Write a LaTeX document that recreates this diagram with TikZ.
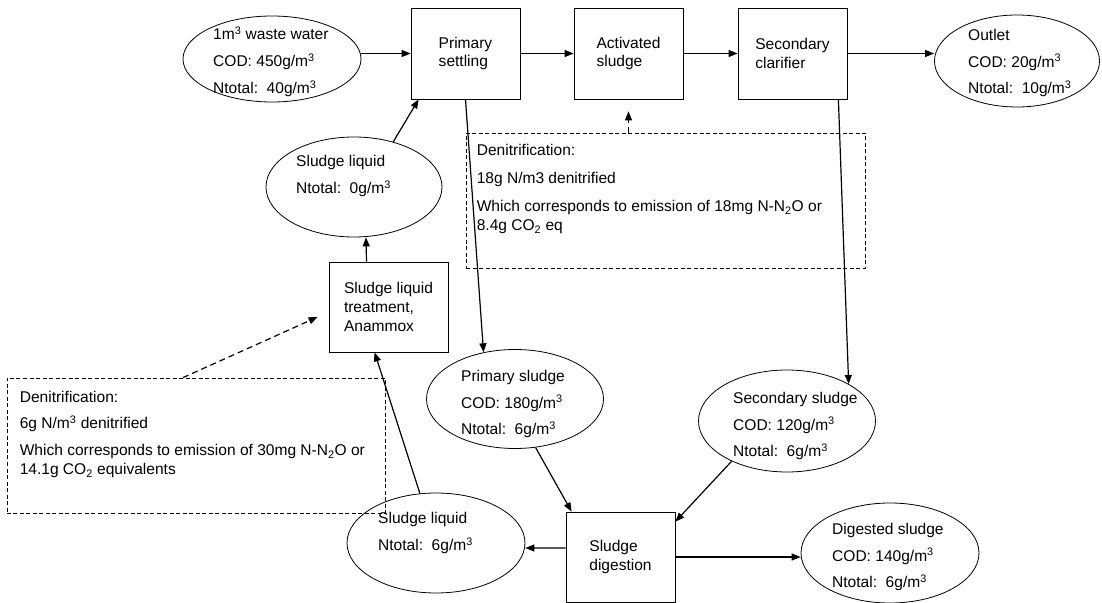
\documentclass[tikz,border=0pt]{standalone}
\usepackage{fontspec}
\setmainfont{Liberation Sans}
\usetikzlibrary{arrows.meta,calc,shapes.geometric}
\newcommand{\cube}{\textsuperscript{3}}

\begin{document}
\begin{tikzpicture}[
    x=1bp, y=-1bp,
    font=\fontsize{15.6}{19}\selectfont,
    unit/.style={rectangle,draw,line width=0.8bp,align=left,minimum width=109bp,minimum height=91bp},
    pool/.style={ellipse,draw,line width=0.8bp,inner sep=0pt,minimum width=177bp,minimum height=100bp},
    txt/.style={align=left,inner sep=0pt,anchor=west},
    note/.style={rectangle,draw,dash pattern=on 4bp off 2.5bp,line width=0.8bp,inner sep=0pt},
    flow/.style={-{Triangle[length=9bp,width=7bp]},line width=1.2bp},
    hint/.style={flow,dash pattern=on 6bp off 4bp}]
    \useasboundingbox (0,0) rectangle (1102,603);

    % main water line
    \node[pool,minimum width=178bp,minimum height=86bp] (in) at (272,59) {};
    \node[txt] (in-t) at ($(in)+(-59,3)$) {1m\cube{} waste water\\[8bp]COD: 450g/m\cube\\[8bp]Ntotal:\ \ 40g/m\cube};
    \node[unit] (ps) at (465.5,53.5) {Primary\\settling};
    \node[unit] (as) at (628.5,53.5) {Activated\\sludge};
    \node[unit] (sc) at (792.5,53.5) {Secondary\\clarifier};
    \node[pool,minimum width=165bp,minimum height=92bp] (out) at (1017,61) {};
    \node[txt] (out-t) at ($(out)+(-49,2)$) {Outlet\\[8bp]COD: 20g/m\cube\\[8bp]Ntotal:\ \ 10g/m\cube};

    % sludge line
    \node[pool,minimum width=176bp] (sl1) at (354,187) {};
    \node[txt] (sl1-t) at ($(sl1)+(-58,-11)$) {Sludge liquid\\[8bp]Ntotal:\ \ 0g/m\cube};
    \node[unit,minimum width=119bp,minimum height=90bp] (tr) at (388.5,307) {Sludge liquid\\treatment,\\Anammox};
    \node[pool,minimum height=99bp] (psl) at (515,399) {};
    \node[txt] (psl-t) at ($(psl)+(-54,5)$) {Primary sludge\\[8bp]COD: 180g/m\cube\\[8bp]Ntotal:\ \ 6g/m\cube};
    \node[pool,minimum height=102bp] (ssl) at (787,421) {};
    \node[txt] (ssl-t) at ($(ssl)+(-54,5)$) {Secondary sludge\\[8bp]COD: 120g/m\cube\\[8bp]Ntotal:\ \ 6g/m\cube};
    \node[pool,minimum width=178bp] (sl2) at (436,543) {};
    \node[txt] (sl2-t) at ($(sl2)+(-58,-10)$) {Sludge liquid\\[8bp]Ntotal:\ \ 6g/m\cube};
    \node[unit,minimum height=90bp] (dig) at (620.5,557) {Sludge\\digestion};
    \node[pool,minimum width=178bp] (dsl) at (890,553) {};
    \node[txt] (dsl-t) at ($(dsl)+(-58,4)$) {Digested sludge\\[8bp]COD: 140g/m\cube\\[8bp]Ntotal:\ \ 6g/m\cube};

    % denitrification notes
    \node[note,minimum width=399bp,minimum height=135bp] (den1) at (665.5,200.5) {};
    \node[txt,anchor=north west] (den1-t) at ($(den1.north west)+(11,11)$) {Denitrification:\\[9.5bp]18g N/m3 denitrified\\[9.5bp]Which corresponds to emission of 18mg N-N\textsubscript{2}O or\\8.4g CO\textsubscript{2} eq};
    \node[note,minimum width=378bp,minimum height=135bp] (den2) at (196,445.5) {};
    \node[txt,anchor=north west] (den2-t) at ($(den2.north west)+(13,13)$) {Denitrification:\\[8bp]6g N/m\cube{} denitrified\\[8bp]Which corresponds to emission of 30mg N-N\textsubscript{2}O or\\14.1g CO\textsubscript{2} equivalents};

    \draw[flow] (in.east |- ps.west) -- (ps.west);
    \draw[flow] (ps.east) -- (as.west);
    \draw[flow] (as.east) -- (sc.west);
    \draw[flow] (sc.east) -- (out.west |- sc.east);
    \draw[flow] (ps.south) -- (psl.124);
    \draw[flow] ([xshift=-9bp]sc.south east) -- (ssl.31);
    \draw[flow] (psl.-67) -- ([xshift=6bp]dig.north west);
    \draw[flow] (ssl.216) -- ([yshift=-10bp]dig.north east);
    \draw[flow] ([yshift=9bp]dig.west) -- ([yshift=-5bp]sl2.east);
    \draw[flow] (dig.east) -- (dig.east -| dsl.west);
    \draw[flow] (sl2.108) -- ([xshift=46bp]tr.south west);
    \draw[flow] ([xshift=-22bp]tr.north) -- ([xshift=12bp]sl1.south);
    \draw[flow] (sl1.49) -- ([xshift=8bp]ps.south west);
    \draw[hint] (den1.north -| as.south) -- ([yshift=-12bp]as.south);
    \draw[hint] ([xshift=-13bp]den2.north) -- ([shift={(-11bp,-10bp)}]tr.west);
  \end{tikzpicture}
\end{document}
